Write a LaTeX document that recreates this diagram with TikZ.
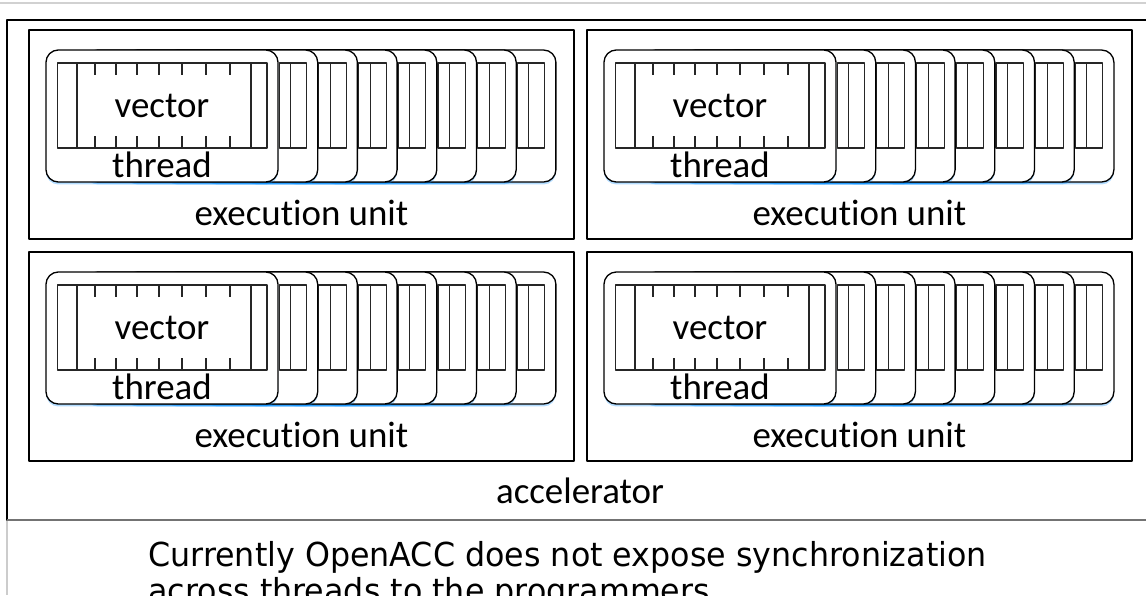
\documentclass[tikz,border=0pt]{standalone}
\usepackage{fontspec}
\setmainfont{Carlito}[Ligatures=NoCommon]
\newfontfamily\notefont[FakeStretch=0.96]{DejaVu Sans}
\usetikzlibrary{shadows}

\begin{document}
\begin{tikzpicture}[x=0.02cm, y=-0.02cm, line join=round]
    \tikzstyle{lbl}=[inner sep=0pt, anchor=base, font=\fontsize{21}{25}\selectfont]
    \tikzstyle{note}=[inner sep=0pt, anchor=base west, font=\notefont\fontsize{18.8}{24}\selectfont]
    \tikzstyle{unitbox}=[draw=black, line width=0.75pt, fill=white]
    \tikzstyle{threadbox}=[draw=black, line width=0.75pt, fill=white, rounded corners=7pt,
        drop shadow={shadow xshift=0pt, shadow yshift=-1.4pt, fill=blue!45!cyan, opacity=0.3}]
    \tikzstyle{lane}=[draw=black!85, line width=0.6pt]
    \clip (0,0) rectangle (1146,595);
    \fill[white] (0,0) rectangle (1146,595);
    \draw[black!18, line width=1.2pt] (0,3) -- (1146,3);
    \draw[black!20, line width=1pt] (7,520) -- (7,595);
    % accelerator
    \draw[unitbox] (7,20) rectangle (1153,520);
    \draw[black!55, line width=1.3pt] (7,520) -- (1153,520);
    \node[lbl] (acc) at (580,503) {accelerator};
    % execution units
    \foreach \ux/\uy [count=\u] in {29/30, 587/30, 29/252, 587/252} {
      \begin{scope}[shift={(\ux,\uy)}]
        \draw[unitbox] (0,0) rectangle (545,209);
        \node[lbl] (eu\u) at (272.5,195) {execut\kern0pt ion unit};
        % threads stacked behind
        \foreach \k in {7,...,1} {
          \begin{scope}[shift={(\k*39.7,0)}]
            \draw[threadbox] (17,20) rectangle (249,152);
            \draw[lane] (210.5,33) rectangle (238,118) (222,33) -- (222,118);
          \end{scope}
        }
        % front thread with its vector lanes
        \draw[threadbox] (17,20) rectangle (249,152);
        \draw[lane] (28.5,33) rectangle (238,118);
        \draw[lane] (48,33) -- (48,118) (222,33) -- (222,118);
        \foreach \t in {66,87,108,130,153,177,201}
          \draw[lane] (\t,33) -- (\t,45) (\t,106) -- (\t,118);
        \node[lbl] (vec\u) at (133,87) {vector};
        \node[lbl] (thr\u) at (133,147) {thread};
      \end{scope}
    }
    % caption
    \node[note] (note1) at (148,566) {Currently OpenACC does not expose synchronization};
    \node[note] (note2) at (148,602) {across threads to the programmers.};
\end{tikzpicture}
\end{document}
